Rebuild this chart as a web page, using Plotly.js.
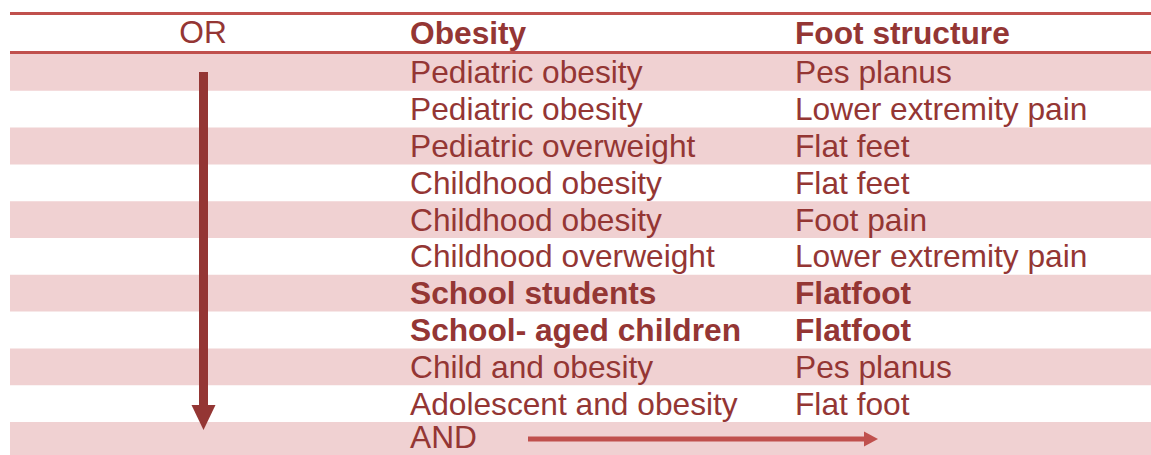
<!DOCTYPE html>
<html>
<head>
<meta charset="utf-8">
<script src="https://cdn.plot.ly/plotly-3.0.1.min.js"></script>
<style>html,body{margin:0;padding:0;background:#fff;}#chart{width:1151px;height:455px;}</style>
</head>
<body>
<div id="chart"></div>
<script>
// ---- data ----
const headers = ["OR", "Obesity", "Foot structure"];
const obesityTerms = ["Pediatric obesity", "Pediatric obesity", "Pediatric overweight", "Childhood obesity", "Childhood obesity", "Childhood overweight", "School students", "School- aged children", "Child and obesity", "Adolescent and obesity", "AND"];
const footTerms = ["Pes planus", "Lower extremity pain", "Flat feet", "Flat feet", "Foot pain", "Lower extremity pain", "Flatfoot", "Flatfoot", "Pes planus", "Flat foot", ""];
const boldRows = [false, false, false, false, false, false, true, true, false, false, false];

// ---- layout constants ----
const W = 1151, H = 455;
const rowTop = 54, rowH = 36.8;
const tableLeft = 10;
const col1 = 203, col2 = 410, col3 = 795;
const textColor = "#943634";
const lineColor = "#C0504D";
const pink = "#F0D1D2";
const fontFam = "Liberation Sans, Arial, sans-serif";
const fs = 31.7;
const textShift = 3;

const shapes = [];

// alternating row bands
obesityTerms.forEach((t, i) => {
  if (i % 2 === 0) {
    shapes.push({type: "rect", xref: "x", yref: "y", x0: tableLeft, x1: W, y0: rowTop + i * rowH, y1: rowTop + (i + 1) * rowH, fillcolor: pink, line: {width: 0}, layer: "below"});
  }
});
// header rules
shapes.push({type: "line", xref: "x", yref: "y", x0: tableLeft, x1: W, y0: 13.5, y1: 13.5, line: {color: lineColor, width: 3}});
shapes.push({type: "line", xref: "x", yref: "y", x0: tableLeft, x1: W, y0: 52.5, y1: 52.5, line: {color: lineColor, width: 3}});

// vertical OR arrow
shapes.push({type: "line", xref: "x", yref: "y", x0: col1 + 0.5, x1: col1 + 0.5, y0: 72, y1: 408, line: {color: textColor, width: 9}});
shapes.push({type: "path", xref: "x", yref: "y", path: `M ${col1 - 11.5} 405 L ${col1 + 12.5} 405 L ${col1 + 0.5} 430 Z`, fillcolor: textColor, line: {width: 0}});
// horizontal AND arrow
const andY = rowTop + 10.5 * rowH - 1.5;
shapes.push({type: "line", xref: "x", yref: "y", x0: 528, x1: 866, y0: andY, y1: andY, line: {color: lineColor, width: 5}});
shapes.push({type: "path", xref: "x", yref: "y", path: `M 864 ${andY - 7.5} L 864 ${andY + 7.5} L 878 ${andY} Z`, fillcolor: lineColor, line: {width: 0}});

const headerY = 33 + textShift;
const rowY = obesityTerms.map((t, i) => rowTop + (i + 0.5) * rowH + textShift - (i === obesityTerms.length - 1 ? 3 : 0));
const wrapB = (s, b) => b ? "<b>" + s + "</b>" : s;

const traces = [
  {type: "scatter", mode: "text", x: [col1], y: [headerY - 1], text: [headers[0]], textposition: "middle center",
   textfont: {family: fontFam, size: fs, color: textColor}, hoverinfo: "skip", cliponaxis: false},
  {type: "scatter", mode: "text", x: [col2, col3], y: [headerY, headerY], text: ["<b>" + headers[1] + "</b>", "<b>" + headers[2] + "</b>"], textposition: "middle right",
   textfont: {family: fontFam, size: fs, color: textColor}, hoverinfo: "skip", cliponaxis: false},
  {type: "scatter", mode: "text", x: obesityTerms.map(() => col2), y: rowY, text: obesityTerms.map((t, i) => wrapB(t, boldRows[i])), textposition: "middle right",
   textfont: {family: fontFam, size: fs, color: textColor}, hoverinfo: "skip", cliponaxis: false},
  {type: "scatter", mode: "text", x: footTerms.map(() => col3), y: rowY, text: footTerms.map((t, i) => wrapB(t, boldRows[i])), textposition: "middle right",
   textfont: {family: fontFam, size: fs, color: textColor}, hoverinfo: "skip", cliponaxis: false}
];

const layout = {
  width: W, height: H,
  margin: {l: 0, r: 0, t: 0, b: 0},
  paper_bgcolor: "#fff", plot_bgcolor: "rgba(0,0,0,0)",
  xaxis: {range: [0, W], visible: false, fixedrange: true},
  yaxis: {range: [H, 0], visible: false, fixedrange: true},
  shapes: shapes,
  showlegend: false
};
Plotly.newPlot("chart", traces, layout, {displayModeBar: false, staticPlot: true});
</script>
</body>
</html>
